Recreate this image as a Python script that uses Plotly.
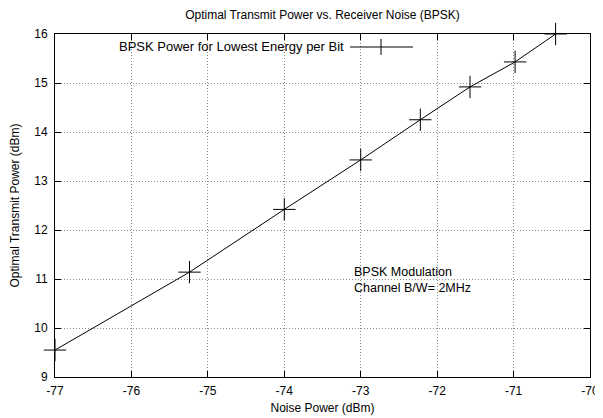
import plotly.graph_objects as go

noise_dbm = [-77, -75.24, -74, -73, -72.22, -71.57, -70.98, -70.45]
tx_power_dbm = [9.55, 11.14, 12.42, 13.43, 14.25, 14.92, 15.43, 16.0]

x_ticks = [-77, -76, -75, -74, -73, -72, -71, -70]
y_ticks = [9, 10, 11, 12, 13, 14, 15, 16]

series_name = "BPSK Power for Lowest Energy per Bit"
FONT = "Liberation Sans, Arial, Helvetica, sans-serif"

# page body has an 8px default margin; size the figure to fit the 603x418 window
W, H = 595, 410
L, T = 47, 26
PW, PH = 535, 343

fig = go.Figure()
fig.add_trace(go.Scatter(
    x=noise_dbm, y=tx_power_dbm, mode="lines+markers",
    line=dict(color="black", width=1),
    marker=dict(symbol="cross-thin", size=16, line=dict(color="black", width=1), color="black"),
    showlegend=False, name=series_name, cliponaxis=False,
))

axis_common = dict(
    showline=True, linecolor="black", linewidth=1, mirror="ticks",
    ticks="inside", ticklen=6, tickcolor="black", tickwidth=1,
    showgrid=True, gridcolor="#8c8c8c", griddash="1px,2px", gridwidth=1,
    zeroline=False, automargin=False,
    tickfont=dict(size=12, color="black", family=FONT),
)

fig.update_layout(
    width=W, height=H,
    margin=dict(l=L, r=W - L - PW, t=T, b=H - T - PH),
    paper_bgcolor="white", plot_bgcolor="white",
    font=dict(family=FONT, size=12, color="black"),
    title=dict(text="Optimal Transmit Power vs. Receiver Noise (BPSK)", x=0.5, xref="paper",
               y=1 - 7 / H, yanchor="middle", font=dict(size=12, family=FONT, color="black")),
    xaxis=dict(range=[-77, -70], tickvals=x_ticks, ticktext=[str(v) for v in x_ticks],
               ticklabelstandoff=3,
               title=dict(text="Noise Power (dBm)", standoff=6, font=dict(size=12)), **axis_common),
    yaxis=dict(range=[9, 16], tickvals=y_ticks, ticktext=[str(v) for v in y_ticks],
               ticklabelstandoff=4,
               title=dict(text="Optimal Transmit Power (dBm)", standoff=14, font=dict(size=12)), **axis_common),
    showlegend=False,
)

# gnuplot-style key: text on left, sample on right (positions relative to plot area)
def px(x):
    return (x - 55) / PW

ky = 1 - (47 - 34) / PH
fig.add_annotation(text=series_name, xref="paper", yref="paper",
                   x=px(346), y=ky, xanchor="right", yanchor="middle",
                   showarrow=False, font=dict(size=13, family=FONT, color="black"))
fig.add_shape(type="line", xref="paper", yref="paper",
              x0=px(350), x1=px(413), y0=ky, y1=ky, line=dict(color="black", width=1))
fig.add_shape(type="line", xref="paper", yref="paper",
              x0=px(381), x1=px(381), y0=ky - 8 / PH, y1=ky + 8 / PH, line=dict(color="black", width=1))

fig.add_annotation(text="BPSK Modulation<br>Channel B/W= 2MHz", xref="x", yref="y",
                   x=-73.12, y=10.97, xanchor="left", yanchor="middle", align="left",
                   showarrow=False, font=dict(size=12.5, family=FONT, color="black"))

fig.write_html("out.html")
